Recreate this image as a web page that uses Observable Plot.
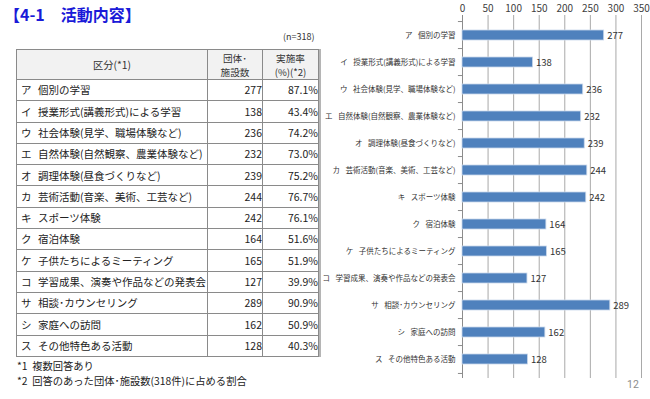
<!DOCTYPE html>
<html><head><meta charset="utf-8">
<script src="https://cdn.jsdelivr.net/npm/d3@7"></script>
<script src="https://cdn.jsdelivr.net/npm/@observablehq/plot@0.6"></script>
<style>
  body{margin:0;width:650px;height:399px;position:relative;background:#fff;overflow:hidden;font-family:"Noto Sans CJK JP",sans-serif;color:#222;}
  #title{position:absolute;left:4px;top:2px;font-size:16px;font-weight:bold;color:#1a1ad8;white-space:pre}
  #n{position:absolute;left:283px;top:30px;font-size:9px;color:#333}
  table{position:absolute;left:16px;top:49px;border-collapse:collapse;font-size:10.5px;table-layout:fixed;box-shadow:2px 0 0 #b5b5b5}
  td,th{border:1px solid #8a8a8a;padding:0 1px;white-space:nowrap;overflow:hidden;line-height:1.1}
  th{background:#f2f2f2;font-weight:normal;height:29px;text-align:center;color:#333;font-size:10.3px}
  th div{font-size:9.6px;line-height:14px;height:14px}
  td{height:20.3px}
  td.num{text-align:right;padding-right:0}
  .let{display:inline-block;width:17px;padding-left:3px}
  #notes{position:absolute;left:17px;top:358px;font-size:10.3px;line-height:15px;color:#222;white-space:pre}
  #page{position:absolute;left:627px;top:378px;font-size:10.5px;color:#8c8c8c;font-family:Roboto,sans-serif}
  #chart{position:absolute;left:320px;top:0}
</style></head>
<body>
<div id="title">【4-1　活動内容】</div>
<div id="n">(n=318)</div>
<table id="tbl"></table>
<div id="notes">*1  複数回答あり
*2  回答のあった団体･施設数(318件)に占める割合</div>
<div id="page">12</div>
<div id="chart"></div>
<script>
const letters = ["ア","イ","ウ","エ","オ","カ","キ","ク","ケ","コ","サ","シ","ス"];
const names = ["個別の学習","授業形式(講義形式)による学習","社会体験(見学、職場体験など)","自然体験(自然観察、農業体験など)","調理体験(昼食づくりなど)","芸術活動(音楽、美術、工芸など)","スポーツ体験","宿泊体験","子供たちによるミーティング","学習成果、演奏や作品などの発表会","相談･カウンセリング","家庭への訪問","その他特色ある活動"];
const counts = [277,138,236,232,239,244,242,164,165,127,289,162,128];
const rates = [87.1,43.4,74.2,73.0,75.2,76.7,76.1,51.6,51.9,39.9,90.9,50.9,40.3];
const xTicks = [0,50,100,150,200,250,300,350];

// table
const tbl = document.getElementById("tbl");
let html = '<colgroup><col style="width:190px"><col style="width:55px"><col style="width:56px"></colgroup>';
html += '<tr><th>区分(*1)</th><th><div>団体･</div><div>施設数</div></th><th><div>実施率</div><div>(%)(*2)</div></th></tr>';
letters.forEach((l,i)=>{
  html += `<tr><td><span class="let">${l}</span>${names[i]}</td><td class="num">${counts[i]}</td><td class="num">${rates[i].toFixed(1)}%</td></tr>`;
});
tbl.innerHTML = html;

// chart
const data = letters.map((l,i)=>({label: l + "\u2002 " + names[i], count: counts[i]}));
const labels = data.map(d=>d.label);
const H = 399, mT = 15, mB = 21;
const step = (H - mT - mB) / labels.length;
const chart = Plot.plot({
  width: 330, height: H,
  marginLeft: 142, marginRight: 9, marginTop: mT, marginBottom: mB,
  style: {fontFamily: "'Noto Sans CJK JP', sans-serif", background: "transparent", color: "#333"},
  x: {domain: [0,350], axis: null},
  y: {domain: labels, paddingInner: 0.64, paddingOuter: 0.32, axis: null},
  marks: [
    Plot.ruleX(xTicks.slice(1), {stroke: "#a9a9a9", strokeWidth: 1}),
    Plot.ruleX([0], {stroke: "#8c8c8c"}),
    Plot.axisX({anchor: "top", ticks: xTicks, tickSize: 0, tickPadding: 4, fontSize: 10, fill: "#404040", label: null}),
    Plot.axisY({tickSize: 0, tickPadding: 7, fontSize: 7.5, fill: "#333", label: null}),
    Plot.ruleY(data, {y: "label", x1: -8, x2: 0, dy: -step/2, stroke: "#8c8c8c"}),
    Plot.ruleY(data.slice(-1), {y: "label", x1: -8, x2: 0, dy: step/2, stroke: "#8c8c8c"}),
    Plot.barX(data, {x: "count", y: "label", fill: "#4F81BD", stroke: "#c9d7ea", strokeWidth: 0.8}),
    Plot.text(data, {x: "count", y: "label", text: d => String(d.count), dx: 3, textAnchor: "start", fontSize: 9.5, fill: "#333"})
  ]
});
document.getElementById("chart").appendChild(chart);
</script>
</body></html>
